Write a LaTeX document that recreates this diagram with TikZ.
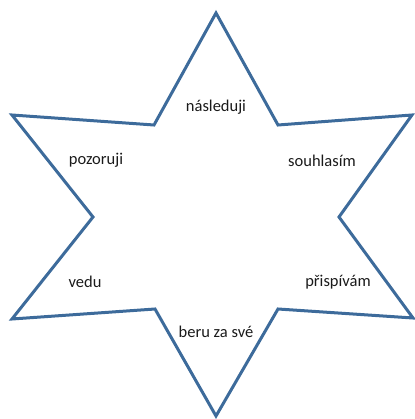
\documentclass[tikz,border=0pt]{standalone}
\usepackage{fontspec}
\setmainfont{Carlito}
\usepackage{tikz}
\definecolor{starblue}{HTML}{3D6B9B}
\definecolor{labeldark}{HTML}{1A1A1A}
\tikzset{
  starline/.style={draw=starblue,line width=3pt,line join=miter},
  lbl/.style={text=labeldark,font=\fontsize{16.5}{19}\selectfont,inner sep=1pt},
}

\begin{document}
\begin{tikzpicture}[x=1pt,y=-1pt]
    \useasboundingbox (0,0) rectangle (414,419);
    % vertices of the star
    \coordinate (top) at (216,13);
    \coordinate (inUL) at (154,125);
    \coordinate (outL) at (12,115);
    \coordinate (inL) at (93,217);
    \coordinate (outLL) at (12,319);
    \coordinate (inLL) at (155,309);
    \coordinate (bot) at (216,416);
    \coordinate (inLR) at (278,309);
    \coordinate (outLR) at (413,318);
    \coordinate (inR) at (339,217);
    \coordinate (outR) at (412,115);
    \coordinate (inUR) at (278,125);
    \draw[starline] (top)--(inUR)--(outR)--(inR)--(outLR)--(inLR)--(bot)--(inLL)--(outLL)--(inL)--(outL)--(inUL)--cycle;
    % labels
    \node[lbl] (nasleduji) at (216,107) {následuji};
    \node[lbl] (pozoruji) at (96,160) {pozoruji};
    \node[lbl] (souhlasim) at (322,161) {souhlasím};
    \node[lbl] (vedu) at (85,282) {vedu};
    \node[lbl] (prispivam) at (338,282) {přispívám};
    \node[lbl] (beru) at (216,332) {beru za své};
\end{tikzpicture}
\end{document}
